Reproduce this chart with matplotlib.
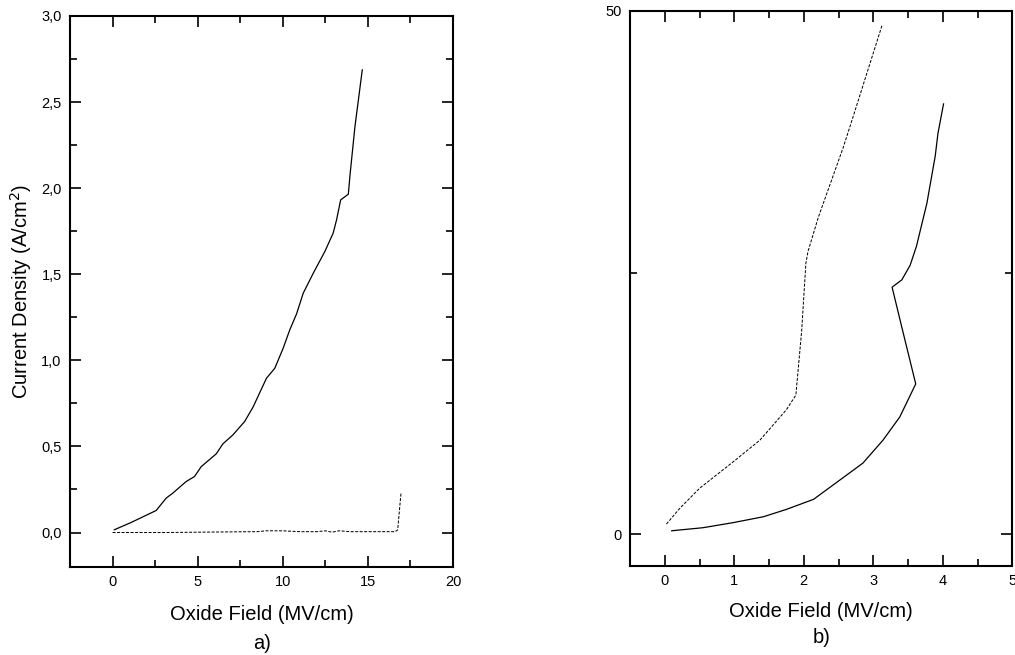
import matplotlib
matplotlib.use('Agg')
import matplotlib.pyplot as plt
from matplotlib.ticker import MultipleLocator, FuncFormatter

plt.rcParams['font.family'] = ['Liberation Sans', 'DejaVu Sans']

# panel a) - current density vs oxide field
aSolidX = [0.1, 1.08, 2.56, 3.15, 3.54, 4.32, 4.81, 5.21, 6.09, 6.48, 7.07, 7.76, 8.25,
           9.04, 9.53, 10.02, 10.41, 10.81, 11.2, 11.79, 12.47, 12.96, 13.16, 13.4,
           13.85, 13.95, 14.24, 14.67]
aSolidY = [0.016, 0.058, 0.128, 0.20, 0.229, 0.296, 0.325, 0.383, 0.457, 0.515, 0.567,
           0.645, 0.728, 0.896, 0.954, 1.07, 1.177, 1.27, 1.39, 1.506, 1.632, 1.739,
           1.816, 1.932, 1.965, 2.077, 2.358, 2.687]
aDashX = [0.0, 3.0, 6.0, 8.5, 9.0, 10.0, 11.0, 12.0, 12.5, 12.9, 13.3, 14.0, 16.6, 16.75, 16.95]
aDashY = [0.0, 0.0, 0.003, 0.005, 0.01, 0.01, 0.005, 0.005, 0.01, 0.002, 0.01, 0.005,
          0.005, 0.015, 0.235]

# panel b)
bSolidX = [0.10, 0.55, 0.98, 1.42, 1.75, 2.14, 2.52, 2.85, 3.14, 3.38, 3.61, 3.42, 3.27,
           3.41, 3.53, 3.62, 3.77, 3.89, 3.93, 4.01]
bSolidY = [0.34, 0.63, 1.11, 1.68, 2.38, 3.34, 5.19, 6.8, 9.0, 11.2, 14.36, 19.5, 23.6,
           24.3, 25.7, 27.5, 31.6, 36.1, 38.3, 41.1]
bDashX = [0.024, 0.216, 0.50, 0.98, 1.37, 1.75, 1.886, 1.97, 2.03, 2.06, 2.21, 2.28,
          2.57, 2.71, 3.13]
bDashY = [0.98, 2.48, 4.39, 6.9, 9.0, 11.9, 13.3, 19.5, 25.9, 27.0, 30.3, 31.6, 37.0,
          39.9, 48.7]

xLabel = 'Oxide Field (MV/cm)'
yLabel = 'Current Density (A/cm$^2$)'

tickFont = 10.5
labelFont = 14.5
lw = 0.9


def commaFmt(v, pos):
    return f'{v:.1f}'.replace('.', ',')


def styleAxes(ax):
    ax.tick_params(which='both', direction='in', top=True, right=True,
                   labelsize=tickFont, width=1.2, pad=6)
    ax.tick_params(which='major', length=8)
    ax.tick_params(which='minor', length=5)
    for s in ax.spines.values():
        s.set_linewidth(1.5)


fig = plt.figure(figsize=(10.15, 6.55), dpi=100)

axA = fig.add_axes([0.069, 0.1344, 0.3773, 0.8412])
axA.plot(aSolidX, aSolidY, color='black', lw=lw)
axA.plot(aDashX, aDashY, color='black', lw=lw * 0.8, linestyle=(0, (3, 1.5)))
axA.set_xlim(-2.5, 20)
axA.set_ylim(-0.2, 3.0)
axA.xaxis.set_major_locator(MultipleLocator(5))
axA.xaxis.set_minor_locator(MultipleLocator(2.5))
axA.yaxis.set_major_locator(MultipleLocator(0.5))
axA.yaxis.set_minor_locator(MultipleLocator(0.25))
axA.yaxis.set_major_formatter(FuncFormatter(commaFmt))
styleAxes(axA)
axA.set_xlabel(xLabel, fontsize=labelFont, labelpad=11)
axA.set_ylabel(yLabel, fontsize=labelFont, labelpad=5)

axB = fig.add_axes([0.6207, 0.1363, 0.3767, 0.8473])
axB.plot(bSolidX, bSolidY, color='black', lw=lw)
axB.plot(bDashX, bDashY, color='black', lw=lw * 0.8, linestyle=(0, (3, 1.5)))
axB.set_xlim(-0.5, 5)
axB.set_ylim(-3, 50)
axB.xaxis.set_major_locator(MultipleLocator(1))
axB.xaxis.set_minor_locator(MultipleLocator(0.5))
axB.yaxis.set_major_locator(MultipleLocator(50))
axB.yaxis.set_minor_locator(MultipleLocator(25))
styleAxes(axB)
axB.set_xlabel(xLabel, fontsize=labelFont, labelpad=10)

fig.text(0.2577, 0.018, 'a)', ha='center', va='center', fontsize=labelFont)
fig.text(0.809, 0.026, 'b)', ha='center', va='center', fontsize=labelFont)

fig.savefig('out.png', dpi=100)
